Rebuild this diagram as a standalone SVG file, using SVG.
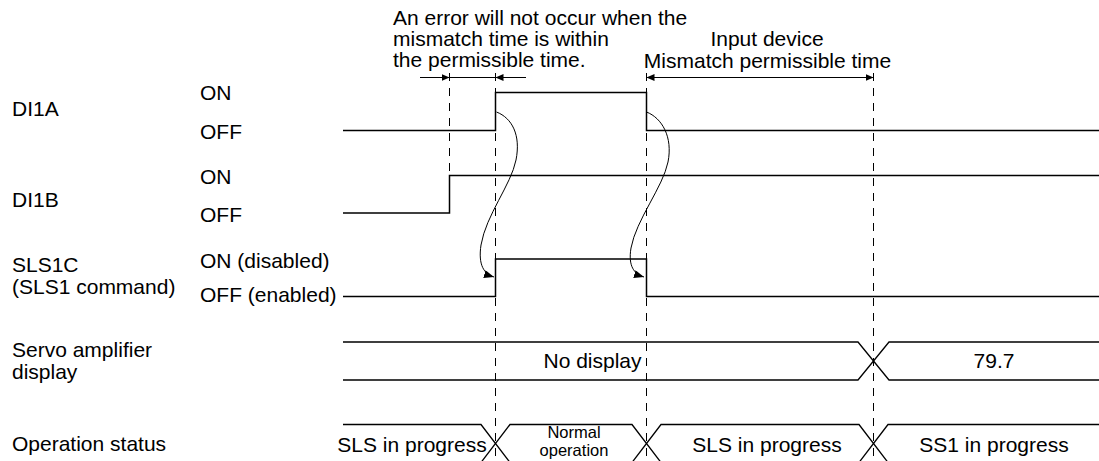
<svg xmlns="http://www.w3.org/2000/svg" width="1099" height="461" viewBox="0 0 1099 461">
<style>
text{font-family:"Liberation Sans",Arial,sans-serif;font-size:21px;fill:#000}
.sm{font-size:16.5px}
.mid{text-anchor:middle}
.sig{fill:none;stroke:#000;stroke-width:1.5}
.bus{fill:none;stroke:#000;stroke-width:1.3}
.dash{fill:none;stroke:#000;stroke-width:1;stroke-dasharray:8,7}
.thin{fill:none;stroke:#000;stroke-width:1}
</style>
<defs>
<marker id="ah" markerWidth="11" markerHeight="8" refX="10" refY="4" orient="auto" markerUnits="userSpaceOnUse"><path d="M0,0 L10,4 L0,8 z" fill="#000"/></marker>
<marker id="dim" markerWidth="8" markerHeight="7" refX="8" refY="3.5" orient="auto-start-reverse" markerUnits="userSpaceOnUse"><path d="M0,0 L8,3.5 L0,7 z" fill="#000"/></marker>
</defs>

<g id="labels">
<text x="12" y="116">DI1A</text>
<text x="200" y="100">ON</text>
<text x="200" y="139">OFF</text>
<text x="12" y="207">DI1B</text>
<text x="200" y="184">ON</text>
<text x="200" y="222">OFF</text>
<text x="12" y="272">SLS1C</text>
<text x="12" y="293.5">(SLS1 command)</text>
<text x="200" y="267.5">ON (disabled)</text>
<text x="200" y="301.5">OFF (enabled)</text>
<text x="12" y="357">Servo amplifier</text>
<text x="12" y="378.5">display</text>
<text x="12" y="450.5">Operation status</text>
</g>

<g id="annotations">
<text x="393" y="24.5">An error will not occur when the</text>
<text x="393" y="45.5">mismatch time is within</text>
<text x="393" y="66.5">the permissible time.</text>
<text class="mid" x="767" y="46">Input device</text>
<text class="mid" x="767.5" y="67.5">Mismatch permissible time</text>
</g>

<g id="DI1A"><path class="sig" d="M343,130.5 H495.5 V92.5 H646.5 V130.5 H1099"/></g>
<g id="DI1B"><path class="sig" d="M343,213 H449.5 V175.5 H1099"/></g>
<g id="SLS1C"><path class="sig" d="M343,296.5 H495.5 V259 H646.5 V296.5 H1099"/></g>

<g id="display">
<path class="bus" d="M343,342 H858 L889,380 H1099"/>
<path class="bus" d="M343,380 H858 L889,342 H1099"/>
<text class="mid" x="592.5" y="368">No display</text>
<text class="mid" x="994" y="368">79.7</text>
</g>

<g id="status">
<path class="bus" d="M343,424.5 H481 L510,462.5 H632 L661,424.5 H859 L888,462.5 H1099"/>
<path class="bus" d="M343,462.5 H481 L510,424.5 H632 L661,462.5 H859 L888,424.5 H1099"/>
<text class="mid" x="412" y="452">SLS in progress</text>
<text class="mid sm" x="574" y="438">Normal</text>
<text class="mid sm" x="574" y="456">operation</text>
<text class="mid" x="767" y="452">SLS in progress</text>
<text class="mid" x="994" y="452">SS1 in progress</text>
</g>

<g id="connectors">
<path class="dash" d="M449.5,73 V176"/>
<path class="dash" d="M495.5,73 V461"/>
<path class="dash" d="M646.5,73 V461"/>
<path class="dash" d="M873.5,73 V461"/>
<path class="thin" d="M420,77.5 H449.5" marker-end="url(#dim)"/>
<path class="thin" d="M449.5,77.5 H495.5"/>
<path class="thin" d="M526,77.5 H495.5" marker-end="url(#dim)"/>
<path class="thin" d="M646.5,77.5 H873.5" marker-start="url(#dim)" marker-end="url(#dim)"/>
<path class="thin" d="M496.5,112 C512,118 521,135 516,160 C511,185 486,215 481,245 C478,265 484,274 494,277" marker-end="url(#ah)"/>
<path class="thin" d="M646.5,112 C662,118 673,137 668,162 C663,187 636,220 631,248 C628,266 634,274 644,277" marker-end="url(#ah)"/>
</g>
</svg>
